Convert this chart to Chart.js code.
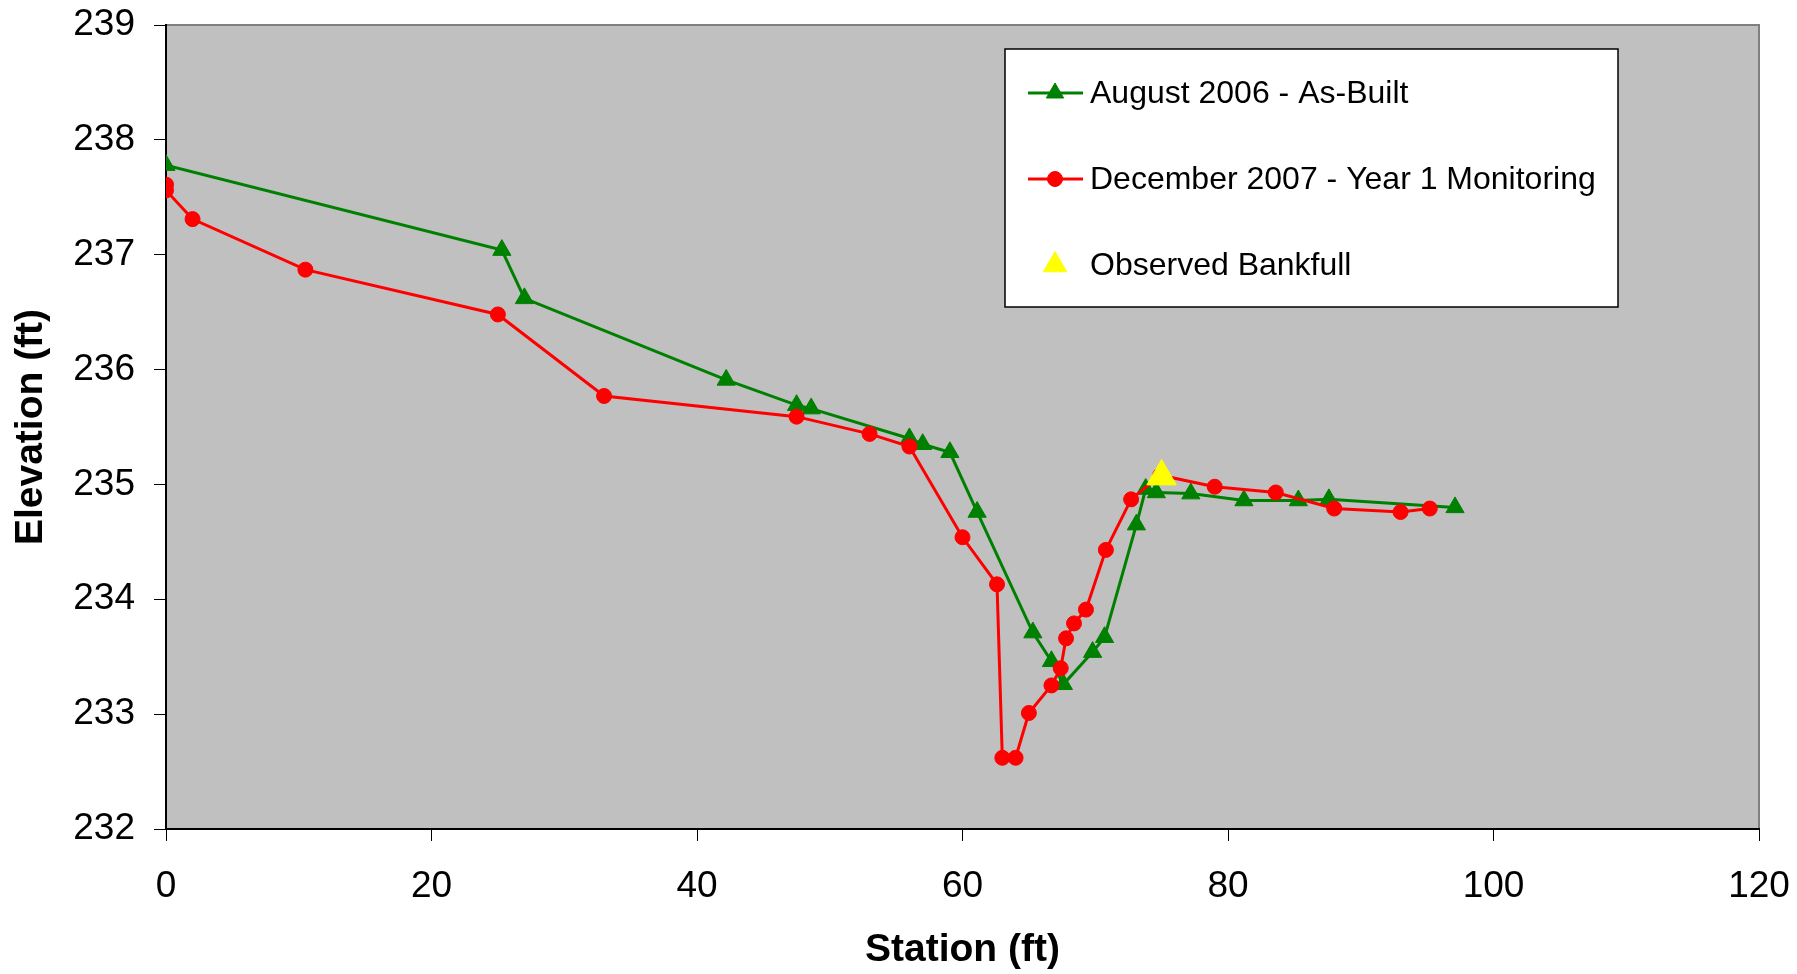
<!DOCTYPE html>
<html>
<head>
<meta charset="utf-8">
<script src="https://cdn.jsdelivr.net/npm/chart.js"></script>
<style>
  html, body { margin: 0; padding: 0; background: #fff; }
  #wrap { width: 1797px; height: 974px; position: relative; }
</style>
</head>
<body>
<div id="wrap"><canvas id="xs"></canvas></div>
<script>
// cross section values
const asBuiltStation = [0, 25.3, 27.0, 42.2, 47.5, 48.6, 56.0, 57.0, 59.05, 61.1, 65.3, 66.7, 67.6, 69.8, 70.7, 73.1, 73.8, 74.6, 77.2, 81.2, 85.3, 87.6, 97.1];
const asBuiltElev = [237.78, 237.04, 236.62, 235.91, 235.69, 235.66, 235.40, 235.35, 235.28, 234.76, 233.71, 233.46, 233.26, 233.54, 233.67, 234.65, 234.96, 234.93, 234.92, 234.86, 234.86, 234.87, 234.80];

const year1Station = [0, 0, 2.0, 10.5, 25.0, 33.0, 47.5, 53.0, 56.0, 60.0, 62.6, 63.0, 64.0, 65.0, 66.7, 67.4, 67.8, 68.4, 69.3, 70.8, 72.7, 74.9, 79.0, 83.6, 88.0, 93.0, 95.2];
const year1Elev = [237.61, 237.56, 237.31, 236.87, 236.48, 235.77, 235.59, 235.44, 235.33, 234.54, 234.13, 232.62, 232.62, 233.01, 233.25, 233.40, 233.66, 233.79, 233.91, 234.43, 234.87, 235.08, 234.98, 234.93, 234.79, 234.76, 234.79];

const bankfullStation = [75.0];
const bankfullElev = [235.07];

const seriesNames = ['August 2006 - As-Built', 'December 2007 - Year 1 Monitoring', 'Observed Bankfull'];

const xMin = 0, xMax = 120, xStep = 20;
const yMin = 232, yMax = 239, yStep = 1;

function pairs(xs, ys) {
  return xs.map((x, i) => ({ x: x, y: ys[i] }));
}

Chart.defaults.font.family = "'Liberation Sans', Arial, sans-serif";
Chart.defaults.color = '#000';

function drawMarker(ctx, style, r, x, y, fill) {
  ctx.save();
  ctx.fillStyle = fill;
  ctx.strokeStyle = fill;
  ctx.lineWidth = 1;
  ctx.beginPath();
  if (style === 'triangle') {
    let a = 0;
    ctx.moveTo(x + Math.sin(a) * r, y - Math.cos(a) * r);
    a += Math.PI * 2 / 3;
    ctx.lineTo(x + Math.sin(a) * r, y - Math.cos(a) * r);
    a += Math.PI * 2 / 3;
    ctx.lineTo(x + Math.sin(a) * r, y - Math.cos(a) * r);
    ctx.closePath();
  } else {
    ctx.arc(x, y, r, 0, Math.PI * 2);
  }
  ctx.fill();
  ctx.stroke();
  ctx.restore();
}

// grey plot area
const plotBg = {
  id: 'plotBg',
  beforeDraw(chart) {
    const { ctx, chartArea: a } = chart;
    ctx.save();
    ctx.fillStyle = '#C0C0C0';
    ctx.fillRect(a.left, a.top, a.right - a.left, a.bottom - a.top);
    ctx.strokeStyle = '#808080';
    ctx.lineWidth = 2;
    ctx.strokeRect(a.left, a.top, a.right - a.left, a.bottom - a.top);
    ctx.restore();
  }
};

// legend box sitting inside the plot
const boxLegend = {
  id: 'boxLegend',
  afterDraw(chart) {
    const ctx = chart.ctx;
    const bx = 1005, by = 49, bw = 613, bh = 258;
    const rows = [93, 179, 265];
    ctx.save();
    ctx.fillStyle = '#fff';
    ctx.fillRect(bx, by, bw, bh);
    ctx.strokeStyle = '#000';
    ctx.lineWidth = 1.5;
    ctx.strokeRect(bx, by, bw, bh);
    chart.data.datasets.forEach((ds, i) => {
      const y = rows[i];
      if (ds.showLine) {
        ctx.strokeStyle = ds.borderColor;
        ctx.lineWidth = 3;
        ctx.beginPath();
        ctx.moveTo(1028, y);
        ctx.lineTo(1083, y);
        ctx.stroke();
      }
      drawMarker(ctx, ds.pointStyle, ds.legendRadius, 1055, y, ds.pointBackgroundColor);
      ctx.fillStyle = '#000';
      ctx.font = "32px 'Liberation Sans', Arial, sans-serif";
      ctx.textAlign = 'left';
      ctx.textBaseline = 'middle';
      ctx.fillText(ds.label, 1090, y + 1);
    });
    ctx.restore();
  }
};

function noPad(s) {
  s.paddingTop = 0;
  s.paddingBottom = 0;
  s.paddingLeft = 0;
  s.paddingRight = 0;
}

new Chart(document.getElementById('xs'), {
  type: 'scatter',
  data: {
    datasets: [
      {
        label: seriesNames[0],
        data: pairs(asBuiltStation, asBuiltElev),
        showLine: true,
        borderColor: '#008000',
        borderWidth: 3,
        pointStyle: 'triangle',
        pointRadius: 10.5,
        legendRadius: 10,
        pointBackgroundColor: '#008000',
        pointBorderColor: '#008000',
        pointBorderWidth: 1,
        tension: 0,
        order: 2
      },
      {
        label: seriesNames[1],
        data: pairs(year1Station, year1Elev),
        showLine: true,
        borderColor: '#FF0000',
        borderWidth: 3,
        pointStyle: 'circle',
        pointRadius: 7.5,
        legendRadius: 7.5,
        pointBackgroundColor: '#FF0000',
        pointBorderColor: '#FF0000',
        pointBorderWidth: 1,
        tension: 0,
        order: 1
      },
      {
        label: seriesNames[2],
        data: pairs(bankfullStation, bankfullElev),
        showLine: false,
        borderColor: '#FFFF00',
        pointStyle: 'triangle',
        pointRadius: 17,
        legendRadius: 13.5,
        pointBackgroundColor: '#FFFF00',
        pointBorderColor: '#FFFF00',
        pointBorderWidth: 1,
        order: 0
      }
    ]
  },
  options: {
    responsive: true,
    maintainAspectRatio: false,
    animation: false,
    layout: { padding: { top: 25, right: 38, bottom: 0, left: 0 } },
    plugins: {
      legend: { display: false },
      tooltip: { enabled: false }
    },
    scales: {
      x: {
        type: 'linear',
        min: xMin,
        max: xMax,
        ticks: { stepSize: xStep, font: { size: 37 }, color: '#000', padding: 24 },
        grid: { drawOnChartArea: false, drawTicks: true, tickLength: 12, color: '#000', tickWidth: 1 },
        border: { display: true, color: '#000', width: 2 },
        title: { display: true, text: 'Station (ft)', font: { size: 39, weight: 'bold' }, color: '#000', padding: 0 },
        afterFit(s) { s.height = 145; noPad(s); }
      },
      y: {
        type: 'linear',
        min: yMin,
        max: yMax,
        ticks: { stepSize: yStep, font: { size: 37 }, color: '#000', padding: 19 },
        grid: { drawOnChartArea: false, drawTicks: true, tickLength: 12, color: '#000', tickWidth: 1 },
        border: { display: true, color: '#000', width: 2 },
        title: { display: true, text: 'Elevation (ft)', font: { size: 39, weight: 'bold' }, color: '#000', padding: { top: 8, bottom: 0 } },
        afterFit(s) { s.width = 166; noPad(s); }
      }
    }
  },
  plugins: [plotBg, boxLegend]
});
</script>
</body>
</html>
